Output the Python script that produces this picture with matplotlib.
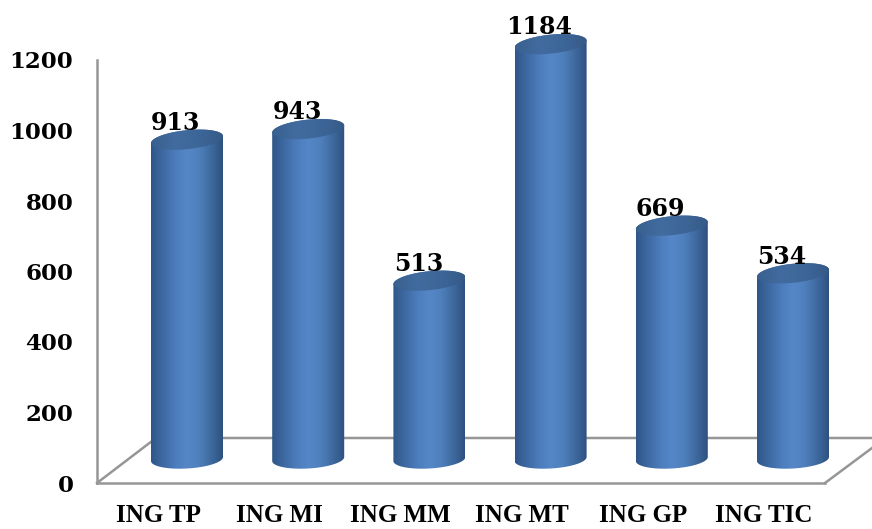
import numpy as np
import matplotlib
matplotlib.use('Agg')
import matplotlib.pyplot as plt
from matplotlib.colors import LinearSegmentedColormap
from matplotlib.path import Path
from matplotlib.patches import PathPatch
from matplotlib.transforms import ScaledTranslation

categories = ['ING TP', 'ING MI', 'ING MM', 'ING MT', 'ING GP', 'ING TIC']
values = [913, 943, 513, 1184, 669, 534]
yticks = [0, 200, 400, 600, 800, 1000, 1200]

W, H = 872, 529
left, right, bottom, top = 97, 825, 483, 60   # axes box in pixels
firstBar, step = 187, 121.2                   # bar centres in pixels
halfW, halfH, tilt = 36, 9.5, 3.5             # cylinder ellipse in pixels
baseDepth, topDepth = 24, 21.5                # floor offset of the bars
backY = 438                                   # back edge of the floor
backX = 156

font = ['DejaVu Serif']
labelFont = ['Liberation Serif']
grey = '#969696'

fig = plt.figure(figsize=(W/100, H/100), dpi=100)
ax = fig.add_axes([left/W, 1-bottom/H, (right-left)/W, (bottom-top)/H])
ax.patch.set_alpha(0)

xlim = ((left-firstBar)/step, (right-firstBar)/step)
ylim = (0, 1200)
sx = step
sy = (bottom-top)/1200.0

def toData(px, py):
    return (px-firstBar)/step, (bottom-py)/sy

bodyCmap = LinearSegmentedColormap.from_list('body', ['#2f5688', '#3e6aa3', '#4c7cbb', '#5587c8', '#4f80bd', '#3f6a9f', '#2e5280'])
topCmap = LinearSegmentedColormap.from_list('top', ['#38608f', '#426c9f', '#3d6698', '#355a88'])

def gradientFill(verts, codes, x0, x1, y0, y1, cmap, zorder):
    patch = PathPatch(Path(verts, codes), fc='none', ec='none', transform=ax.transData)
    ax.add_patch(patch)
    im = ax.imshow(np.linspace(0, 1, 128).reshape(1, -1), cmap=cmap, aspect='auto',
                   extent=(x0, x1, y0, y1), zorder=zorder)
    im.set_clip_box(fig.bbox)
    im.set_clip_path(patch)

t = np.linspace(0, 2*np.pi, 121)
for i, v in enumerate(values):
    a = halfW/sx
    ex = a*np.cos(t)
    ey = (halfH*np.sin(t) + tilt*np.cos(t))/sy

    # body : lower half of base ellipse, upper half of top ellipse
    low = t[60:121]
    xb = i + a*np.cos(low)
    yb = baseDepth/sy + (halfH*np.sin(low) + 2*np.cos(low))/sy
    up = t[0:61]
    xt = i + a*np.cos(up)
    yt = topDepth/sy + v + (halfH*np.sin(up) + tilt*np.cos(up))/sy
    verts = np.column_stack([np.r_[xb, xt], np.r_[yb, yt]])
    verts = np.vstack([verts, verts[0]])
    codes = [Path.MOVETO] + [Path.LINETO]*(len(verts)-2) + [Path.CLOSEPOLY]
    gradientFill(verts, codes, i-a, i+a, 0, v+100, bodyCmap, 3)

    # top cap
    verts = np.column_stack([i+ex, topDepth/sy+v+ey])
    codes = [Path.MOVETO] + [Path.LINETO]*(len(verts)-2) + [Path.CLOSEPOLY]
    gradientFill(verts, codes, i-a, i+a, v, v+150, topCmap, 4)

    ax.annotate(str(v), xy=(i, topDepth/sy+v), xytext=(-8, 12), textcoords='offset points',
                ha='center', va='center', family=font, weight='bold', fontsize=17,
                color='black', zorder=5, annotation_clip=False)

ax.set_xlim(xlim)
ax.set_ylim(ylim)

# floor
x0, y0 = toData(backX, backY)
x1, y1 = toData(W, backY)
ax.plot([xlim[0], x0, x1], [0, y0, y1], color=grey, lw=1.8, clip_on=False, zorder=1)
x2, y2 = toData(W, 448)
ax.plot([xlim[1], x2], [0, y2], color=grey, lw=1.8, clip_on=False, zorder=1)

for s in ['top', 'right']:
    ax.spines[s].set_visible(False)
for s in ['left', 'bottom']:
    ax.spines[s].set_color(grey)
    ax.spines[s].set_linewidth(1.8)

ax.set_xticks(range(len(categories)))
ax.set_xticklabels(categories, family=labelFont, weight='bold', fontsize=18)
ax.set_yticks(yticks)
ax.set_yticklabels([str(y) for y in yticks], family=font, weight='bold', fontsize=16.5)
ax.tick_params(axis='both', length=0)
ax.tick_params(axis='y', pad=17)
ax.tick_params(axis='x', pad=15)

# the category labels sit left of their bars in the reference
shift = ScaledTranslation(-29/100, 0, fig.dpi_scale_trans)
for lab in ax.get_xticklabels():
    lab.set_transform(lab.get_transform() + shift)

fig.savefig('out.png', dpi=100)
